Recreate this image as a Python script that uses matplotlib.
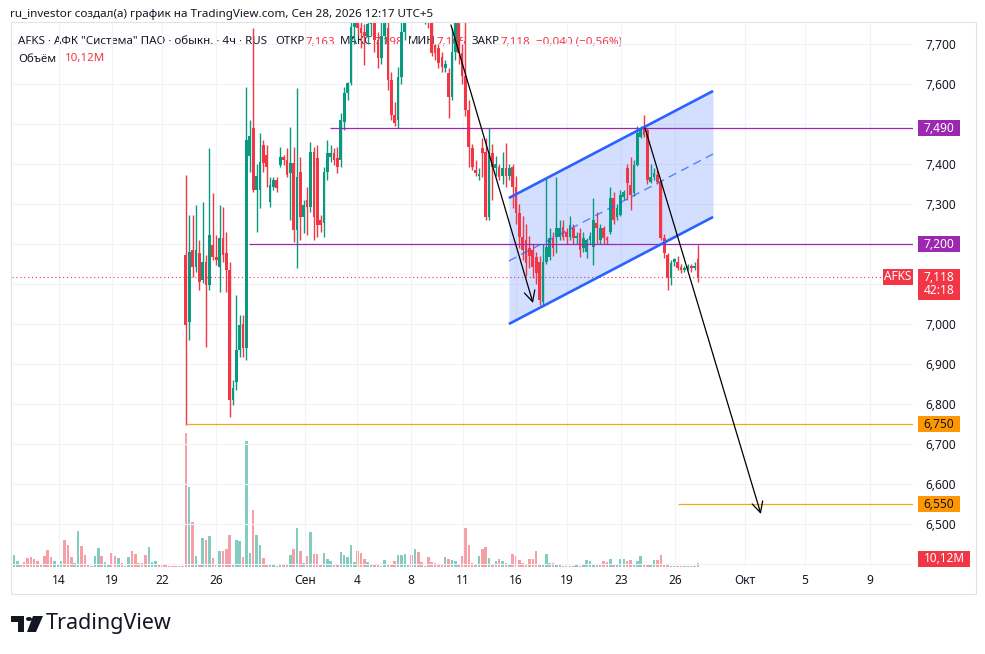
import numpy as np
import matplotlib
matplotlib.use("Agg")
import matplotlib.pyplot as plt
from matplotlib.patches import Rectangle, Polygon, Circle

plt.rcParams['font.family'] = ['Noto Sans', 'DejaVu Sans']

# -------------------------------------------------------
# Data (4h candles, AFKS).
# -------------------------------------------------------
# volume of the bars left of the visible candles (price above the pane)
pre_vol = [30, 15, 8, 12, 22, 25, 20, 15, 5, 28,
           42, 25, 15, 5, 15, 68, 55, 25, 10, 90,
           52, 30, 8, 3, 28, 48, 28, 12, 5, 35,
           28, 22, 10, 3, 25, 40, 32, 10, 10, 30,
           50, 12, 15, 5, 8, 5, 3, 3, 3, 3, 3]
pre_dir = "uuddddddud" "dduuuddduu" "dduduuduud" "duduuddddd" "uuudddddddd"

opens = [7.172, 7.005, 7.185, 7.142, 7.177, 7.110, 7.155, 7.097, 7.197, 7.167,
         7.142, 7.215, 7.177, 7.135, 6.810, 6.855, 6.935, 6.999, 6.940, 7.420,
         7.490, 7.335, 7.335, 7.447, 7.422, 7.305, 7.342, 7.360, 7.397, 7.417,
         7.410, 7.377, 7.402, 7.235, 7.380, 7.267, 7.310, 7.292, 7.430, 7.415,
         7.260, 7.252, 7.380, 7.417, 7.427, 7.415, 7.410, 7.505, 7.577, 7.602,
         7.742, 7.800, 7.740, 7.730, 7.720, 7.750, 7.770, 7.710, 7.665, 7.720,
         7.740, 7.610, 7.522, 7.510, 7.617, 7.730, 7.800, 7.830, 7.810, 7.840,
         7.820, 7.790, 7.800, 7.780, 7.697, 7.690, 7.667, 7.640, 7.627, 7.567,
         7.680, 7.780, 7.677, 7.620, 7.535, 7.440, 7.385, 7.370, 7.440, 7.430,
         7.267, 7.427, 7.390, 7.392, 7.370, 7.390, 7.370, 7.392, 7.342, 7.277,
         7.217, 7.210, 7.190, 7.185, 7.167, 7.155, 7.055, 7.155, 7.167, 7.215,
         7.217, 7.217, 7.243, 7.230, 7.217, 7.240, 7.215, 7.227, 7.190, 7.180,
         7.210, 7.192, 7.253, 7.210, 7.240, 7.215, 7.230, 7.315, 7.267, 7.272,
         7.317, 7.390, 7.347, 7.327, 7.397, 7.467, 7.490, 7.485, 7.355, 7.367,
         7.372, 7.355, 7.215, 7.172, 7.117, 7.155, 7.155, 7.143, 7.135, 7.140,
         7.145, 7.140, 7.163]
highs = [7.372, 7.272, 7.272, 7.297, 7.210, 7.305, 7.172, 7.440, 7.327, 7.222,
         7.297, 7.292, 7.230, 7.155, 6.860, 7.072, 7.022, 7.022, 7.592, 7.510,
         7.740, 7.400, 7.478, 7.460, 7.447, 7.367, 7.367, 7.367, 7.442, 7.422,
         7.440, 7.492, 7.442, 7.590, 7.417, 7.310, 7.342, 7.455, 7.442, 7.447,
         7.272, 7.392, 7.460, 7.447, 7.440, 7.442, 7.527, 7.592, 7.605, 7.760,
         7.850, 7.820, 7.760, 7.750, 7.780, 7.800, 7.780, 7.730, 7.760, 7.800,
         7.760, 7.630, 7.555, 7.642, 7.755, 7.850, 7.860, 7.880, 7.850, 7.900,
         7.860, 7.840, 7.840, 7.800, 7.700, 7.700, 7.680, 7.660, 7.640, 7.740,
         7.820, 7.800, 7.700, 7.760, 7.560, 7.450, 7.410, 7.390, 7.465, 7.465,
         7.490, 7.450, 7.420, 7.400, 7.430, 7.452, 7.400, 7.400, 7.370, 7.300,
         7.270, 7.250, 7.220, 7.200, 7.180, 7.170, 7.200, 7.367, 7.240, 7.230,
         7.367, 7.260, 7.260, 7.240, 7.270, 7.250, 7.230, 7.240, 7.230, 7.215,
         7.230, 7.315, 7.280, 7.250, 7.245, 7.220, 7.342, 7.330, 7.300, 7.335,
         7.335, 7.400, 7.417, 7.410, 7.495, 7.495, 7.522, 7.490, 7.400, 7.390,
         7.385, 7.360, 7.225, 7.177, 7.160, 7.165, 7.170, 7.150, 7.145, 7.150,
         7.150, 7.155, 7.198]
lows = [6.747, 6.960, 7.117, 7.130, 7.085, 7.102, 6.942, 7.085, 7.160, 7.147,
        7.080, 7.155, 7.080, 6.767, 6.797, 6.835, 6.917, 6.917, 6.910, 7.380,
        7.330, 7.230, 7.290, 7.380, 7.342, 7.292, 7.335, 7.330, 7.392, 7.397,
        7.367, 7.260, 7.205, 7.140, 7.210, 7.227, 7.222, 7.280, 7.210, 7.217,
        7.230, 7.217, 7.360, 7.405, 7.397, 7.377, 7.392, 7.485, 7.560, 7.597,
        7.700, 7.720, 7.690, 7.648, 7.700, 7.720, 7.680, 7.640, 7.650, 7.700,
        7.585, 7.510, 7.495, 7.490, 7.600, 7.710, 7.760, 7.790, 7.770, 7.800,
        7.760, 7.750, 7.740, 7.670, 7.660, 7.640, 7.630, 7.630, 7.515, 7.560,
        7.660, 7.650, 7.600, 7.520, 7.392, 7.385, 7.370, 7.360, 7.367, 7.260,
        7.260, 7.310, 7.370, 7.360, 7.350, 7.342, 7.360, 7.290, 7.250, 7.190,
        7.160, 7.120, 7.140, 7.115, 7.100, 7.047, 7.045, 7.150, 7.160, 7.170,
        7.177, 7.210, 7.210, 7.200, 7.210, 7.200, 7.200, 7.167, 7.180, 7.165,
        7.200, 7.147, 7.200, 7.200, 7.200, 7.200, 7.225, 7.250, 7.260, 7.270,
        7.310, 7.310, 7.285, 7.320, 7.395, 7.465, 7.468, 7.350, 7.352, 7.360,
        7.350, 7.210, 7.165, 7.085, 7.097, 7.145, 7.135, 7.128, 7.130, 7.135,
        7.130, 7.135, 7.105]
closes = [6.997, 7.180, 7.142, 7.185, 7.105, 7.155, 7.097, 7.222, 7.167, 7.160,
          7.215, 7.172, 7.135, 6.810, 6.840, 6.935, 6.997, 6.940, 7.460, 7.470,
          7.335, 7.370, 7.405, 7.402, 7.392, 7.347, 7.360, 7.340, 7.417, 7.410,
          7.372, 7.402, 7.235, 7.367, 7.267, 7.297, 7.292, 7.430, 7.267, 7.247,
          7.247, 7.380, 7.427, 7.427, 7.410, 7.392, 7.510, 7.577, 7.602, 7.742,
          7.800, 7.740, 7.727, 7.720, 7.750, 7.770, 7.710, 7.665, 7.720, 7.760,
          7.610, 7.522, 7.502, 7.617, 7.730, 7.800, 7.830, 7.810, 7.840, 7.820,
          7.790, 7.820, 7.770, 7.677, 7.677, 7.652, 7.642, 7.650, 7.567, 7.680,
          7.780, 7.677, 7.620, 7.535, 7.442, 7.392, 7.378, 7.375, 7.427, 7.267,
          7.422, 7.392, 7.400, 7.367, 7.390, 7.370, 7.390, 7.342, 7.277, 7.217,
          7.185, 7.152, 7.170, 7.142, 7.127, 7.060, 7.155, 7.192, 7.215, 7.190,
          7.240, 7.240, 7.217, 7.217, 7.247, 7.215, 7.220, 7.185, 7.215, 7.210,
          7.220, 7.260, 7.240, 7.240, 7.215, 7.210, 7.315, 7.260, 7.290, 7.322,
          7.330, 7.352, 7.322, 7.397, 7.477, 7.490, 7.472, 7.360, 7.367, 7.377,
          7.355, 7.215, 7.177, 7.115, 7.152, 7.162, 7.140, 7.135, 7.140, 7.145,
          7.140, 7.145, 7.118]
volumes = [335, 200, 112, 28, 8, 72, 68, 78, 22, 5,
           40, 40, 45, 80, 5, 68, 65, 25, 315, 35,
           142, 80, 55, 22, 8, 5, 5, 3, 5, 5,
           5, 30, 45, 98, 40, 10, 28, 88, 32, 32,
           8, 35, 20, 15, 8, 5, 38, 30, 25, 55,
           12, 40, 35, 20, 12, 5, 8, 5, 3, 18,
           8, 5, 15, 30, 30, 32, 5, 30, 45, 38,
           12, 3, 25, 12, 10, 5, 8, 25, 20, 18,
           15, 5, 28, 98, 55, 10, 5, 28, 45, 50,
           22, 5, 15, 20, 15, 10, 5, 32, 28, 18,
           10, 5, 20, 20, 40, 8, 5, 32, 10, 10,
           5, 5, 3, 3, 3, 3, 5, 3, 5, 18,
           15, 8, 5, 5, 15, 12, 20, 8, 5, 20,
           20, 15, 18, 8, 15, 28, 8, 5, 5, 18,
           18, 30, 8, 5, 3, 3, 3, 3, 3, 3,
           3, 3, 10.12]

# time axis (bar index of each date label)
date_pos = [13.4, 29.1, 43.9, 60.0, 86.4, 101.8, 117.8, 133.3, 149.0,
            164.1, 180.2, 196.2, 217.0, 234.8, 254.1]
date_labels = ["14", "19", "22", "26", "Сен", "4", "8", "11", "16",
               "19", "23", "26", "Окт", "5", "9"]
price_ticks = [6.4, 6.5, 6.6, 6.7, 6.8, 6.9, 7.0, 7.1, 7.2, 7.3, 7.4, 7.5, 7.6, 7.7]
hidden_ticks = [6.4, 7.1, 7.2, 7.5]   # covered by the price-scale tags

# drawings
purple_levels = [7.49, 7.20]
purple_start = [93.8, 69.75]
orange_levels = [6.75, 6.55]
orange_start = [51.0, 197.1]
last_price = 7.118
chan_x = [146.9, 207.5]
chan_upper = [7.315, 7.5825]
chan_lower = [7.000, 7.2675]
arrow1 = [(129.7, 7.7475), (154.05, 7.0525)]
arrow2 = [(187.3, 7.490), (221.7, 6.525)]

# -------------------------------------------------------
# Plot setup.
# -------------------------------------------------------
W, H = 985, 654
UP, DOWN = "#089981", "#f23645"
UP_V, DOWN_V = "#86cbbf", "#f5a0a6"
TXT = "#131722"
PURPLE, ORANGE = "#9c27b0", "#ff9800"
XL = (-0.6, 266.85)
YL = (6.3925, 7.755)

fig = plt.figure(figsize=(W / 100, H / 100), dpi=100)
rect = [12 / W, 1 - 567 / H, 901 / W, 545 / H]
axv = fig.add_axes(rect, zorder=0)
ax = fig.add_axes(rect, zorder=1)
ax.patch.set_visible(False)

# -------------------------------------------------------
# Volume.
# -------------------------------------------------------
n_pre = len(pre_vol)
o = np.array(opens)
c = np.array(closes)
up = c >= o
vx = np.arange(n_pre + len(volumes))
vcols = [UP_V if d == "u" else DOWN_V for d in pre_dir] + \
        [UP_V if u else DOWN_V for u in up]
axv.bar(vx, pre_vol + volumes, width=0.75, color=vcols, linewidth=0)
axv.set_xlim(*XL)
axv.set_ylim(0, 1362)
axv.axis("off")

# -------------------------------------------------------
# Candles.
# -------------------------------------------------------
cx = np.arange(len(opens)) + n_pre
ccols = np.where(up, UP, DOWN)
ax.vlines(cx, lows, highs, colors=ccols, lw=1.0, zorder=4)
body_lo = np.minimum(o, c)
body_h = np.maximum(np.abs(c - o), 0.003)
ax.bar(cx, body_h, bottom=body_lo, width=0.8, color=ccols, linewidth=0, zorder=5)

ax.set_xlim(*XL)
ax.set_ylim(*YL)
for s in ax.spines.values():
    s.set_visible(False)
ax.set_xticks(date_pos, date_labels)
ax.set_yticks(price_ticks)
ax.yaxis.tick_right()
ax.yaxis.set_major_formatter(plt.FuncFormatter(
    lambda v, i: "" if any(abs(v - h) < 1e-6 for h in hidden_ticks)
    else ("%.3f" % v).replace(".", ",")))
ax.tick_params(axis="both", length=0, colors=TXT, labelsize=8.6)
ax.tick_params(axis="y", pad=9)
ax.tick_params(axis="x", pad=5)
ax.grid(True, color="#f0f3fa", lw=0.8, zorder=0)
ax.set_axisbelow(True)

# -------------------------------------------------------
# Drawings.
# -------------------------------------------------------
ax.axhline(last_price, color=DOWN, lw=0.8, ls=(0, (1, 2.5)), zorder=2)
for lvl, x0 in zip(purple_levels, purple_start):
    ax.hlines(lvl, x0, XL[1], color=PURPLE, lw=0.9, zorder=6)
for lvl, x0 in zip(orange_levels, orange_start):
    ax.hlines(lvl, x0, XL[1], color="#f2a81d", lw=0.9, zorder=6)

mid = [(a + b) / 2 for a, b in zip(chan_upper, chan_lower)]
ax.fill_between(chan_x, chan_lower, chan_upper, color="#2962ff", alpha=0.2,
                lw=0, zorder=2)
ax.plot(chan_x, chan_upper, color="#2962ff", lw=1.9, zorder=7,
        solid_capstyle="butt")
ax.plot(chan_x, chan_lower, color="#2962ff", lw=1.9, zorder=7,
        solid_capstyle="butt")
ax.plot(chan_x, mid, color="#2962ff", lw=1.0, alpha=0.75, ls=(0, (6, 4)),
        zorder=7)

for a in (arrow1, arrow2):
    ax.annotate("", xy=a[1], xytext=a[0],
                arrowprops=dict(arrowstyle="->,head_length=0.55,head_width=0.28",
                                color="black", lw=0.9, shrinkA=0, shrinkB=0,
                                mutation_scale=14), zorder=8)

# price scale labels
yt = ax.get_yaxis_transform()


def price_box(y, text, fc, tc, x0=1.0056, w=0.0466, h=0.041):
    ax.add_patch(Rectangle((x0, y - h / 2), w, h, transform=yt, facecolor=fc,
                           edgecolor="none", clip_on=False, zorder=10))
    ax.text(x0 + w / 2, y, text, transform=yt, ha="center", va="center",
            color=tc, fontsize=8.6, clip_on=False, zorder=11)


for lvl in purple_levels:
    price_box(lvl, ("%.3f" % lvl).replace(".", ","), PURPLE, "white")
for lvl in orange_levels:
    price_box(lvl, ("%.3f" % lvl).replace(".", ","), ORANGE, TXT)

# last price: symbol tag, price + countdown
ax.add_patch(Rectangle((0.9667, last_price - 0.0205), 0.0333, 0.041,
                       transform=yt, facecolor=DOWN, edgecolor="none",
                       clip_on=False, zorder=10))
ax.text(0.9833, last_price, "AFKS", transform=yt, ha="center", va="center",
        color="white", fontsize=8.5, fontweight="bold", zorder=11,
        clip_on=False)
ax.add_patch(Rectangle((1.0056, last_price - 0.057), 0.0466, 0.077,
                       transform=yt, facecolor=DOWN, edgecolor="none",
                       clip_on=False, zorder=10))
ax.text(1.0289, last_price - 0.0185,
        ("%.3f" % last_price).replace(".", ",") + "\n42:18",
        transform=yt, ha="center", va="center", color="white", fontsize=8.6,
        linespacing=1.05, zorder=11, clip_on=False)

# volume tag
ax.add_patch(Rectangle((1.0056, 0.0), 0.0577, 0.0294, transform=ax.transAxes,
                       facecolor=DOWN, edgecolor="none", clip_on=False,
                       zorder=10))
ax.text(1.0344, 0.0147, "10,12M", transform=ax.transAxes, ha="center",
        va="center", color="white", fontsize=8.5, fontweight="bold",
        zorder=11, clip_on=False)

# -------------------------------------------------------
# Header / legend / frame / logo.
# -------------------------------------------------------
fig.patches.append(Rectangle((11 / W, 1 - 594 / H), 965 / W, 572 / H,
                             transform=fig.transFigure, fill=False,
                             edgecolor="#e0e3eb", lw=0.8))

fig.text(10 / W, 1 - 14 / H,
         "ru_investor создал(а) график на TradingView.com, Сен 28, 2026 12:17 UTC+5",
         color=TXT, fontsize=8.4, va="center", ha="left")

renderer = fig.canvas.get_renderer()


def put_segments(x_px, y_px, segs, size=8.3):
    x = x_px
    for s, col, gap in segs:
        t = ax.text(x / W, 1 - y_px / H, s, color=col, fontsize=size,
                    va="center", ha="left", transform=fig.transFigure,
                    zorder=0.5, clip_on=False)
        x += t.get_window_extent(renderer=renderer).width + gap


put_segments(18, 42, [
    ("AFKS · АФК \"Система\" ПАО · обыкн. · 4ч · RUS", TXT, 8),
    ("ОТКР", TXT, 1), ("7,163", DOWN, 5),
    ("МАКС", TXT, 1), ("7,198", DOWN, 5),
    ("МИН", TXT, 1), ("7,105", DOWN, 5),
    ("ЗАКР", TXT, 1), ("7,118", DOWN, 5),
    ("−0,040 (−0,56%)", DOWN, 0)])
put_segments(18, 59, [("Объём", TXT, 9), ("10,12M", DOWN, 0)])

# TradingView logo
def px_poly(pts):
    return Polygon([(x / W, 1 - y / H) for x, y in pts], closed=True,
                   transform=fig.transFigure, facecolor=TXT, edgecolor="none")


fig.patches.append(px_poly([(11, 616), (24, 616), (24, 632), (18, 632),
                            (18, 622), (11, 622)]))
fig.patches.append(Circle((29 / W, 1 - 619 / H), 3 / W,
                          transform=fig.transFigure, facecolor=TXT))
fig.patches.append(px_poly([(33, 616), (43, 616), (36, 632), (27, 632)]))
fig.text(46 / W, 1 - 624 / H, "TradingView", color=TXT, fontsize=15.5,
         fontweight="bold", va="center", ha="left")

fig.savefig("out.png", dpi=100, facecolor="white")
plt.close()
